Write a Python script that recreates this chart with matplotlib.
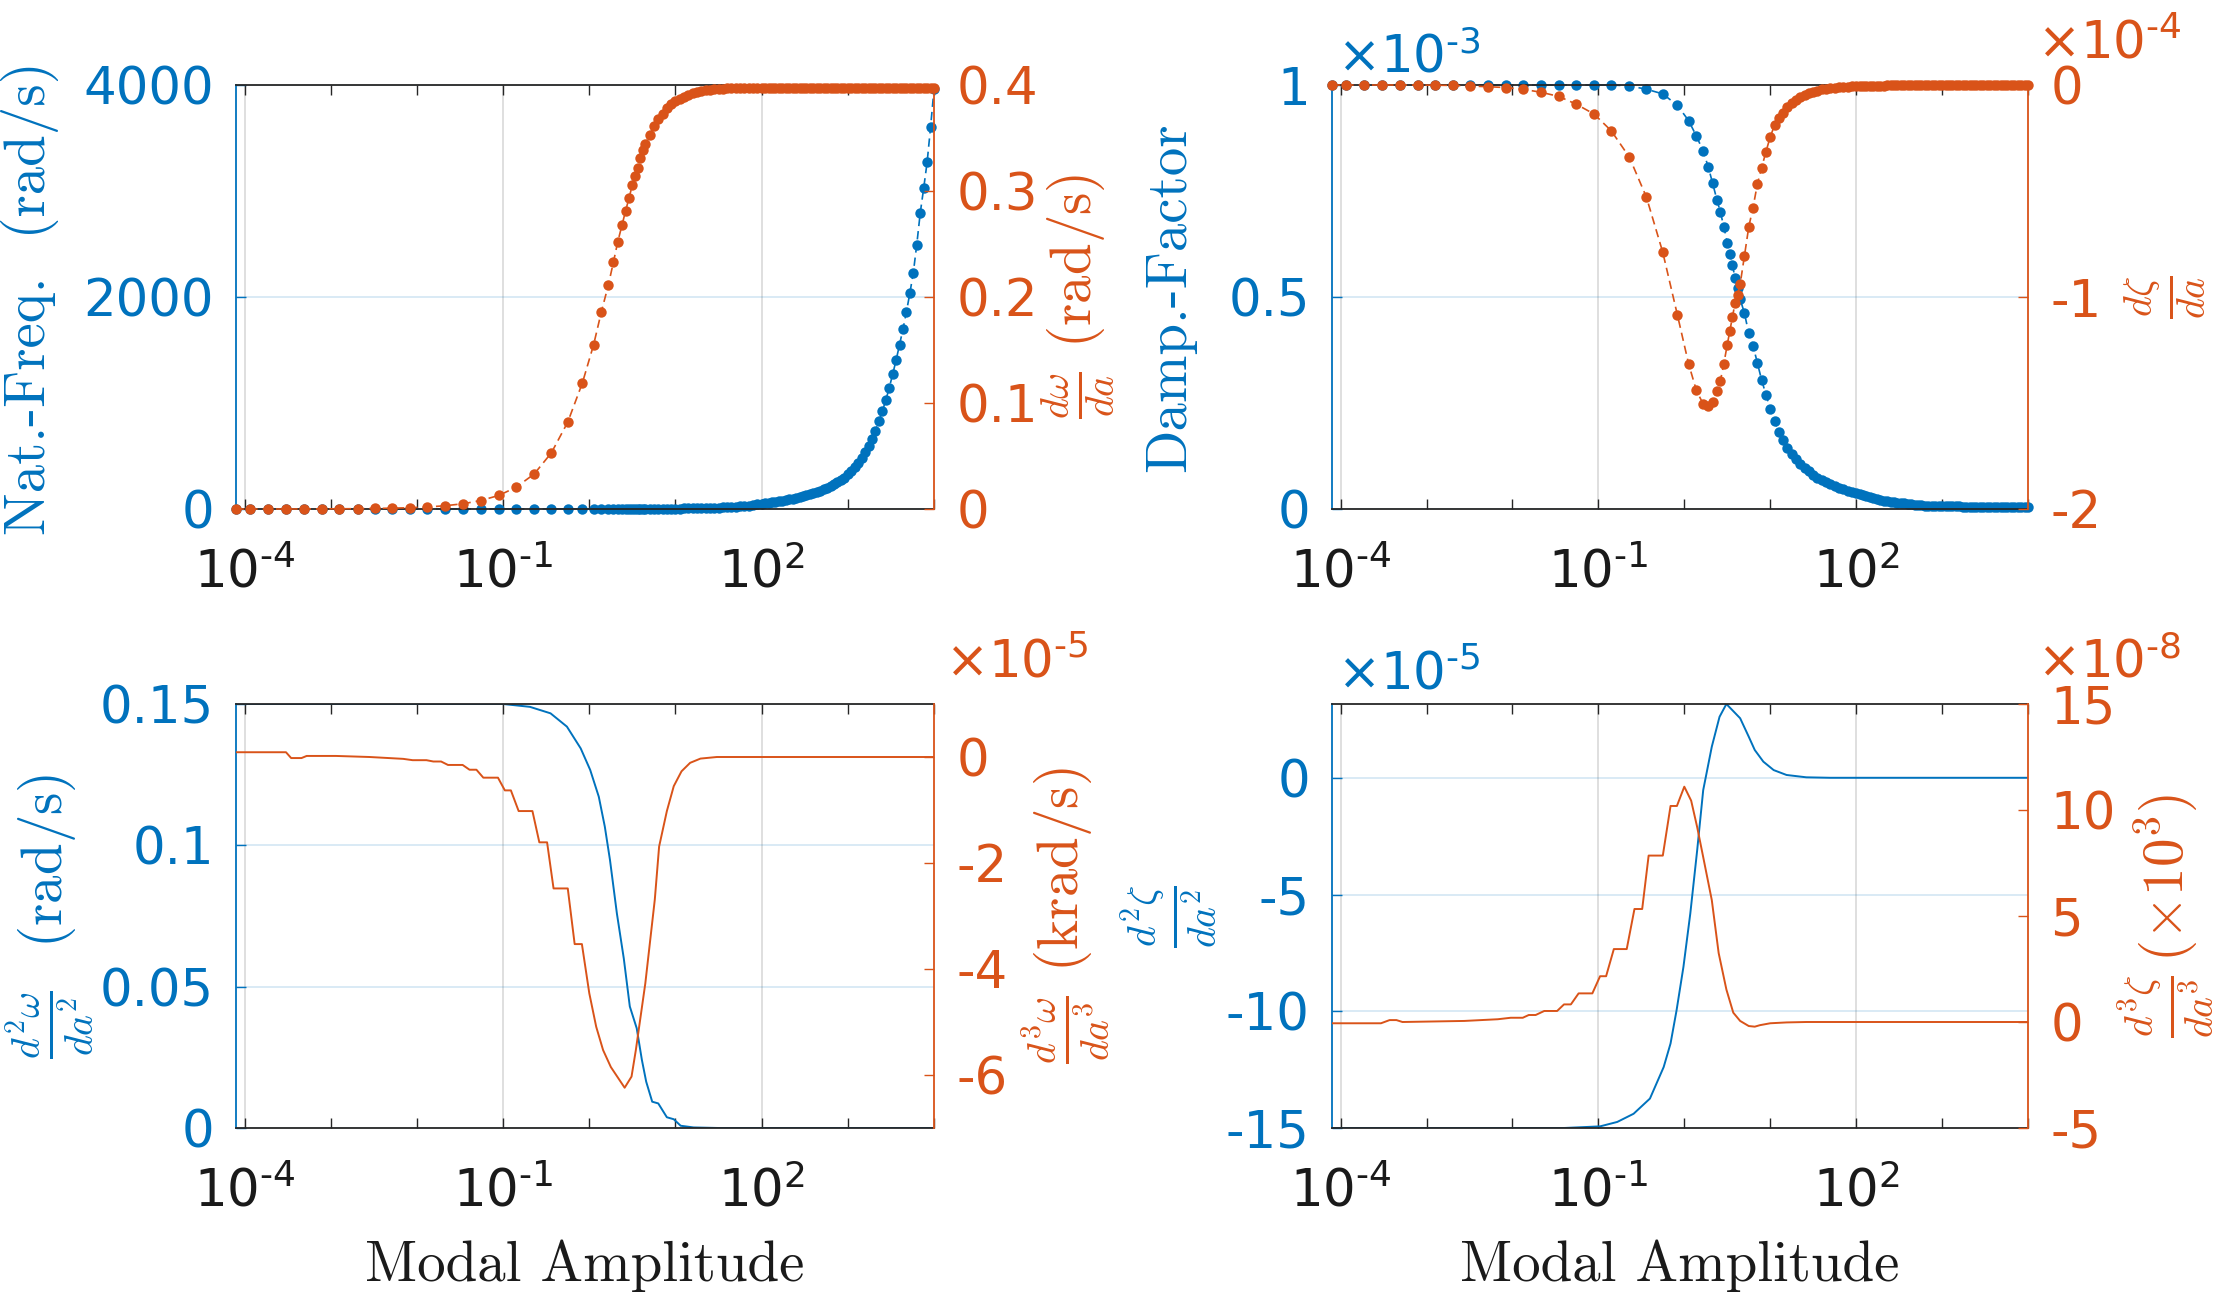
import numpy as np
import matplotlib
matplotlib.use("Agg")
import matplotlib.pyplot as plt
from matplotlib.ticker import FixedLocator, FixedFormatter, NullFormatter

plt.rcParams["font.family"] = ["DejaVu Sans"]
plt.rcParams["mathtext.fontset"] = "cm"
plt.rcParams["axes.unicode_minus"] = False

BLUE = "#0072BD"
ORANGE = "#D95319"
DARK = "#262626"

# ---- top row: common amplitude grid (log10 of modal amplitude) ----
amp_exp = [-4.10, -3.94, -3.73, -3.52, -3.31, -3.10, -2.90, -2.69, -2.49, -2.29,
           -2.08, -1.88, -1.67, -1.46, -1.26, -1.05, -0.85, -0.64, -0.44, -0.25,
           -0.08, 0.05, 0.14, 0.22, 0.28, 0.33, 0.38, 0.42, 0.46, 0.50,
           0.53, 0.56, 0.59, 0.62, 0.65, 0.70, 0.75, 0.80, 0.85, 0.90,
           0.95, 1.00, 1.05, 1.10, 1.15, 1.20, 1.25, 1.30, 1.35, 1.40,
           1.45, 1.50, 1.55, 1.60, 1.65, 1.70, 1.75, 1.80, 1.85, 1.90,
           1.95, 2.00,
           2.04, 2.08, 2.12, 2.16, 2.20, 2.24, 2.28, 2.32, 2.36, 2.40,
           2.44, 2.48, 2.52, 2.56, 2.60, 2.64, 2.68, 2.72, 2.76, 2.80,
           2.84, 2.88, 2.92, 2.96, 3.00, 3.04, 3.08, 3.12, 3.16, 3.20,
           3.24, 3.28, 3.32, 3.36, 3.40, 3.44, 3.48, 3.52, 3.56, 3.60,
           3.64, 3.68, 3.72, 3.76, 3.80, 3.84, 3.88, 3.92, 3.96, 4.00]

nat_freq = [1.1, 1.1, 1.1, 1.1, 1.1, 1.1, 1.1, 1.1, 1.1, 1.1,
            1.1, 1.1, 1.1, 1.1, 1.1, 1.1, 1.1, 1.1, 1.1, 1.1,
            1.1, 1.2, 1.2, 1.3, 1.3, 1.4, 1.4, 1.5, 1.5, 1.6,
            1.7, 1.7, 1.8, 1.9, 2.0, 2.2, 2.4, 2.7, 3.0, 3.3,
            3.7, 4.1, 4.6, 5.1, 5.8, 6.5, 7.3, 8.2, 9.3, 10.5,
            12, 13.5, 15, 17, 20, 22, 25, 29, 33, 38,
            44, 50,
            54, 58, 62, 67, 72, 78, 85, 93, 99, 106,
            114, 122, 131, 140, 150, 161, 172, 185, 199, 215,
            233, 252, 273, 297, 327, 360, 397, 438, 484, 535,
            594, 660, 739, 828, 921, 1025, 1141, 1270, 1403, 1550,
            1698, 1860, 2037, 2230, 2495, 2790, 3025, 3270, 3600, 3960]

dw_da = [0.0000, 0.0000, 0.0000, 0.0000, 0.0001, 0.0001, 0.0002, 0.0003, 0.0005, 0.0008,
         0.0012, 0.0019, 0.0031, 0.0050, 0.0080, 0.0128, 0.0205, 0.0330, 0.0530, 0.0820,
         0.1190, 0.1550, 0.1860, 0.2110, 0.2330, 0.2520, 0.2680, 0.2810, 0.2930, 0.3060,
         0.3140, 0.3220, 0.3310, 0.3390, 0.3440, 0.3530, 0.3610, 0.3680, 0.3730, 0.3780,
         0.3820, 0.3850, 0.3870, 0.3890, 0.3910, 0.3920, 0.3930, 0.3940, 0.3950, 0.3955,
         0.3960, 0.3963, 0.3966, 0.3968, 0.3970, 0.3970, 0.3970, 0.3970, 0.3970, 0.3970,
         0.3970, 0.3970] + [0.3970] * 50

damp = [1.000, 1.000, 1.000, 1.000, 1.000, 1.000, 1.000, 1.000, 1.000, 1.000,
        1.000, 1.000, 1.000, 1.000, 1.000, 1.000, 1.000, 0.998, 0.990, 0.979,
        0.952, 0.916, 0.880, 0.844, 0.806, 0.768, 0.729, 0.700, 0.666, 0.628,
        0.602, 0.576, 0.545, 0.521, 0.495, 0.462, 0.414, 0.385, 0.345, 0.304,
        0.270, 0.236, 0.207, 0.182, 0.162, 0.144, 0.130, 0.117, 0.106, 0.097,
        0.089, 0.081, 0.074, 0.068, 0.063, 0.059, 0.055, 0.050, 0.046, 0.043,
        0.040, 0.037,
        0.035, 0.033, 0.031, 0.029, 0.026, 0.024, 0.022, 0.020, 0.018, 0.017,
        0.016, 0.015, 0.014, 0.013, 0.012, 0.011, 0.010, 0.009, 0.009, 0.008,
        0.008, 0.008, 0.007, 0.007, 0.007, 0.007, 0.006, 0.006, 0.006, 0.006,
        0.005, 0.005, 0.005, 0.005, 0.005, 0.005, 0.005, 0.005, 0.004, 0.004,
        0.004, 0.004, 0.004, 0.004, 0.004, 0.004, 0.004, 0.004, 0.004, 0.004]   # x1e-3

dz_da = [0.000, 0.000, 0.000, 0.000, 0.000, 0.000, -0.001, -0.002, -0.005, -0.008,
         -0.012, -0.020, -0.034, -0.054, -0.090, -0.137, -0.216, -0.340, -0.530, -0.790,
         -1.085, -1.315, -1.440, -1.505, -1.515, -1.495, -1.445, -1.395, -1.315, -1.225,
         -1.160, -1.095, -1.030, -0.990, -0.940, -0.806, -0.670, -0.578, -0.468, -0.390,
         -0.315, -0.245, -0.190, -0.158, -0.130, -0.103, -0.085, -0.070, -0.056, -0.046,
         -0.038, -0.031, -0.026, -0.021, -0.018, -0.015, -0.013, -0.011, -0.009, -0.008,
         -0.007, -0.006,
         -0.006, -0.005, -0.005, -0.004, -0.004, -0.003, -0.003, -0.003, -0.002, -0.002,
         -0.002, -0.002, -0.002, -0.002, -0.001, -0.001, -0.001, -0.001, -0.001, -0.001] + [0.0] * 30  # x1e-4

# ---- bottom row: higher derivatives ----
d2w_exp = [-4.10, -1.00, -0.69, -0.45, -0.26, -0.10, 0.01, 0.11, 0.18, 0.24,
           0.32, 0.40, 0.47, 0.55, 0.61, 0.66, 0.73, 0.80, 0.90, 0.98,
           1.06, 1.21, 1.50, 4.00]
d2w = [0.1500, 0.1500, 0.1490, 0.1467, 0.1420, 0.1343, 0.1267, 0.1172, 0.1066, 0.0948,
       0.0759, 0.0600, 0.0430, 0.0353, 0.0241, 0.0164, 0.0093, 0.0087, 0.0038, 0.0031,
       0.0008, 0.0002, 0.0000, 0.0000]

d3w_exp = [-4.10, -3.52, -3.46, -3.34, -3.28, -2.94, -2.55, -2.16, -2.05, -1.89,
           -1.81, -1.72, -1.64, -1.47, -1.39, -1.31, -1.23, -1.06, -0.98, -0.91,
           -0.82, -0.66, -0.58, -0.49, -0.415, -0.25, -0.17, -0.086, 0.00, 0.08,
           0.16, 0.25, 0.41, 0.49, 0.54, 0.65, 0.76, 0.81, 0.90, 0.98,
           1.07, 1.17, 1.29, 1.48, 4.00]
d3w = [0.09, 0.09, -0.02, -0.02, 0.02, 0.02, 0.00, -0.035, -0.06, -0.06,
       -0.085, -0.085, -0.15, -0.15, -0.24, -0.24, -0.39, -0.39, -0.63, -0.63,
       -1.02, -1.02, -1.61, -1.61, -2.48, -2.48, -3.53, -3.53, -4.46, -5.09,
       -5.53, -5.85, -6.24, -6.03, -5.53, -4.27, -2.69, -1.69, -1.02, -0.55,
       -0.27, -0.11, -0.03, 0.00, 0.00]                            # x1e-5

d2z_exp = [-4.10, -1.40, -0.98, -0.78, -0.59, -0.40, -0.24, -0.16, -0.09, -0.01,
           0.07, 0.15, 0.22, 0.32, 0.41, 0.49, 0.65, 0.75, 0.82, 0.92,
           1.04, 1.19, 1.42, 1.70, 4.00]
d2z = [-15.00, -15.00, -14.93, -14.74, -14.39, -13.74, -12.39, -11.38, -9.96, -8.10,
       -5.81, -3.10, -0.53, 1.33, 2.61, 3.16, 2.55, 1.76, 1.19, 0.69,
       0.33, 0.12, 0.02, 0.00, 0.00]                               # x1e-5

d3z_exp = [-4.10, -3.53, -3.43, -3.35, -3.28, -2.56, -2.17, -2.02, -1.88, -1.81,
           -1.73, -1.63, -1.48, -1.40, -1.32, -1.23, -1.07, -0.98, -0.91, -0.82,
           -0.67, -0.58, -0.49, -0.415, -0.25, -0.16, -0.086, 0.00, 0.08, 0.15,
           0.22, 0.32, 0.40, 0.49, 0.57, 0.65, 0.75, 0.82, 0.88, 1.00,
           1.19, 1.42, 4.00]
d3z = [-0.06, -0.06, 0.09, 0.09, 0.00, 0.05, 0.13, 0.20, 0.20, 0.33,
       0.33, 0.52, 0.52, 0.83, 0.83, 1.35, 1.35, 2.16, 2.16, 3.44,
       3.44, 5.33, 5.33, 7.85, 7.85, 10.19, 10.19, 11.10, 10.44, 9.19,
       7.78, 5.75, 3.25, 1.53, 0.44, 0.05, -0.19, -0.22, -0.15, -0.06,
       -0.02, 0.00, 0.00]                                          # x1e-8

HY = "\u2010"  # short hyphen, as in the original superscripts
xtick_vals = [1e-4, 1e-1, 1e2]
xtick_labels = [r"$\mathdefault{10^{%s4}}$" % HY, r"$\mathdefault{10^{%s1}}$" % HY,
                r"$\mathdefault{10^{2}}$"]

W, H = 2213, 1295
fig = plt.figure(figsize=(W / 100, H / 100), dpi=100)


def px_box(x0, y0, x1, y1):
    return [x0 / W, 1 - y1 / H, (x1 - x0) / W, (y1 - y0) / H]


def times_ten(p):
    # offset text of the form x10^-p
    return "×" + r"$\mathdefault{10^{%s%d}}$" % (HY, p)


def make_axes(box, ylim_l, yt_l, ylim_r, yt_r):
    ax = fig.add_axes(box)
    ax2 = ax.twinx()
    ax.set_xscale("log")
    ax.set_xlim(10 ** -4.1, 10 ** 4.0)
    ax.xaxis.set_major_locator(FixedLocator(xtick_vals))
    ax.xaxis.set_major_formatter(FixedFormatter(xtick_labels))
    ax.xaxis.set_minor_locator(FixedLocator([10.0 ** k for k in range(-4, 5)]))
    ax.xaxis.set_minor_formatter(NullFormatter())
    ax.tick_params(axis="x", which="both", direction="in", top=True, bottom=True,
                   length=7, width=1.0, color=DARK, labelcolor="#1a1a1a",
                   labelsize=37, pad=28)
    ax.set_ylim(ylim_l)
    ax.yaxis.set_major_locator(FixedLocator(yt_l))
    ax.yaxis.set_major_formatter(FixedFormatter([f"{v:g}" for v in yt_l]))
    ax.tick_params(axis="y", direction="in", left=True, right=False, length=7,
                   width=1.0, colors=BLUE, labelsize=37, pad=16)
    ax2.set_ylim(ylim_r)
    ax2.yaxis.set_major_locator(FixedLocator(yt_r))
    ax2.yaxis.set_major_formatter(FixedFormatter([f"{v:g}" for v in yt_r]))
    ax2.tick_params(axis="y", direction="in", left=False, right=True, length=7,
                    width=1.0, colors=ORANGE, labelsize=37, pad=16)
    ax.grid(True, which="major", axis="x", color=DARK, alpha=0.15, lw=1.4)
    ax.grid(True, axis="y", color=BLUE, alpha=0.15, lw=1.4)
    for s in ("top", "bottom"):
        ax.spines[s].set_color(DARK)
        ax.spines[s].set_linewidth(1.3)
    ax.spines["left"].set_color(BLUE)
    ax.spines["left"].set_linewidth(1.3)
    ax.spines["right"].set_visible(False)
    for s in ("left", "top", "bottom"):
        ax2.spines[s].set_visible(False)
    ax2.spines["right"].set_color(ORANGE)
    ax2.spines["right"].set_linewidth(1.3)
    return ax, ax2


amp = 10.0 ** np.array(amp_exp)
mk = dict(marker="o", ms=7.5, mew=0, lw=1.2, ls="--", dashes=(5, 3), clip_on=False)

# top-left: natural frequency and its first derivative
ax, ax2 = make_axes(px_box(236, 85, 934, 509), (0, 4000), [0, 2000, 4000],
                    (0, 0.4), [0, 0.1, 0.2, 0.3, 0.4])
ax.plot(amp, nat_freq, color=BLUE, **mk)
ax2.plot(amp, dw_da, color=ORANGE, **mk)

# top-right: damping factor and its first derivative
ax, ax2 = make_axes(px_box(1332, 85, 2028, 509), (0, 1), [0, 0.5, 1],
                    (-2, 0), [-2, -1, 0])
ax.plot(amp, damp, color=BLUE, **mk)
ax2.plot(amp, dz_da, color=ORANGE, **mk)
ax.annotate(times_ten(3), xy=(0, 1), xycoords="axes fraction",
            xytext=(5, 13), textcoords="offset pixels", ha="left", va="baseline",
            fontsize=37, color=BLUE)
ax2.annotate(times_ten(4), xy=(1, 1), xycoords="axes fraction",
             xytext=(9, 27), textcoords="offset pixels", ha="left", va="baseline",
             fontsize=37, color=ORANGE)

# bottom-left: second and third derivative of frequency
ax, ax2 = make_axes(px_box(236, 704, 934, 1128), (0, 0.15), [0, 0.05, 0.1, 0.15],
                    (-7, 1), [-6, -4, -2, 0])
ax.plot(10.0 ** np.array(d2w_exp), d2w, color=BLUE, lw=1.4)
ax2.plot(10.0 ** np.array(d3w_exp), d3w, color=ORANGE, lw=1.4)
ax2.annotate(times_ten(5), xy=(1, 1), xycoords="axes fraction",
             xytext=(11, 26), textcoords="offset pixels", ha="left", va="baseline",
             fontsize=37, color=ORANGE)

# bottom-right: second and third derivative of damping
ax, ax2 = make_axes(px_box(1332, 704, 2028, 1128), (-15, 3.16), [-15, -10, -5, 0],
                    (-5, 15), [-5, 0, 5, 10, 15])
ax.plot(10.0 ** np.array(d2z_exp), d2z, color=BLUE, lw=1.4)
ax2.plot(10.0 ** np.array(d3z_exp), d3z, color=ORANGE, lw=1.4)
ax.annotate(times_ten(5), xy=(0, 1), xycoords="axes fraction",
            xytext=(5, 14), textcoords="offset pixels", ha="left", va="baseline",
            fontsize=37, color=BLUE)
ax2.annotate(times_ten(8), xy=(1, 1), xycoords="axes fraction",
             xytext=(9, 26), textcoords="offset pixels", ha="left", va="baseline",
             fontsize=37, color=ORANGE)

# axis labels (LaTeX look)
lab = dict(rotation=90, ha="center", va="center", fontsize=41, family="cmr10")
fig.text(30 / W, 1 - 298 / H, "Nat.-Freq.  (rad/s)", color=BLUE, **lab)
fig.text(1078 / W, 1 - 296 / H, r"$\frac{d\omega}{da}$ (rad/s)", color=ORANGE, **lab)
fig.text(1171 / W, 1 - 297 / H, "Damp.-Factor", color=BLUE, **lab)
fig.text(2165 / W, 1 - 297 / H, r"$\frac{d\zeta}{da}$", color=ORANGE, **lab)
fig.text(50 / W, 1 - 916 / H, r"$\frac{d^2\omega}{da^2}$  (rad/s)", color=BLUE, **lab)
fig.text(1066 / W, 1 - 916 / H, r"$\frac{d^3\omega}{da^3}$ (krad/s)", color=ORANGE, **lab)
fig.text(1170 / W, 1 - 916 / H, r"$\frac{d^2\zeta}{da^2}$", color=BLUE, **lab)
fig.text(2167 / W, 1 - 916 / H, r"$\frac{d^3\zeta}{da^3}\,(\times 10^3)$", color=ORANGE, **lab)
fig.text(585 / W, 1 - 1281 / H, "Modal Amplitude", ha="center", va="baseline",
         fontsize=41, family="cmr10", color="#1a1a1a")
fig.text(1680 / W, 1 - 1281 / H, "Modal Amplitude", ha="center", va="baseline",
         fontsize=41, family="cmr10", color="#1a1a1a")

fig.savefig("out.png", dpi=100)
